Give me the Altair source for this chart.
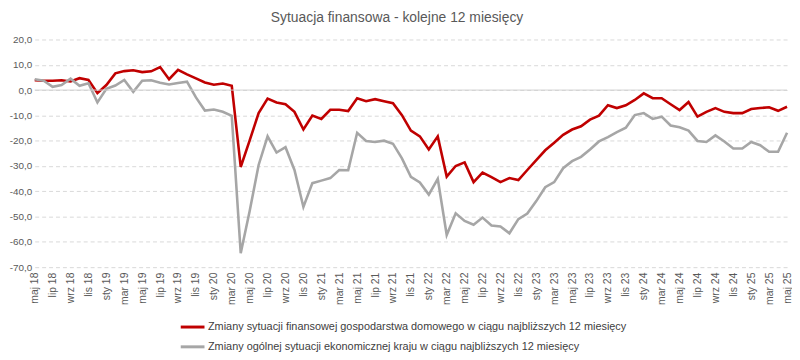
import altair as alt
import pandas as pd

month_names = ["sty", "lut", "mar", "kwi", "maj", "cze", "lip", "sie", "wrz", "paź", "lis", "gru"]
# May 2018 .. May 2025
months = []
y, m = 2018, 5
while (y, m) <= (2025, 5):
    months.append(f"{month_names[m - 1]} {str(y)[2:]}")
    m += 1
    if m > 12:
        m = 1
        y += 1

series_red = "Zmiany sytuacji finansowej gospodarstwa domowego w ciągu najbliższych 12 miesięcy"
series_gray = "Zmiany ogólnej sytuacji ekonomicznej kraju w ciągu najbliższych 12 miesięcy"

red = [3.9, 3.7, 3.7, 3.9, 3.4, 4.7, 4.0, -1.2, 2.0, 6.6,
       7.5, 7.8, 7.1, 7.4, 9.1, 4.3, 8.0, 6.2, 4.6, 3.0,
       2.1, 2.6, 1.7, -30.4, -19.9, -9.1, -3.4, -4.9, -5.6, -8.6,
       -15.6, -10.1, -11.4, -7.8, -7.8, -8.3, -3.2, -4.4, -3.6, -4.4,
       -5.2, -9.9, -16.0, -18.3, -23.5, -18.3, -34.2, -30.0, -28.6, -36.4,
       -32.6, -34.4, -36.4, -34.8, -35.6, -31.6, -27.7, -23.8, -20.8, -17.7,
       -15.6, -14.3, -11.7, -10.1, -6.0, -7.1, -6.0, -3.9, -1.3, -3.2,
       -3.2, -5.6, -7.9, -4.7, -10.5, -8.6, -7.1, -8.6, -9.1, -9.1,
       -7.5, -7.1, -6.8, -8.2, -6.6]

gray = [4.3, 3.7, 1.3, 2.0, 4.5, 1.7, 2.7, -4.9, 0.5, 1.8,
        4.0, -0.7, 3.7, 3.9, 2.9, 2.2, 2.8, 3.3, -2.9, -8.1,
        -7.7, -8.6, -10.2, -64.5, -47.8, -29.6, -18.3, -24.7, -22.6, -31.6,
        -46.2, -36.8, -35.8, -34.8, -31.6, -31.7, -16.9, -20.1, -20.5, -20.0,
        -21.2, -27.0, -34.3, -36.5, -41.3, -35.1, -57.3, -48.7, -51.7, -53.2,
        -50.4, -53.5, -53.9, -56.6, -51.0, -48.8, -43.9, -38.4, -36.4, -30.9,
        -28.1, -26.4, -23.5, -20.3, -18.6, -16.6, -14.9, -9.9, -9.1, -11.4,
        -10.5, -14.0, -14.7, -16.0, -20.1, -20.5, -17.9, -20.3, -23.1, -23.1,
        -20.5, -21.8, -24.4, -24.4, -16.9]

y_ticks = [20, 10, 0, -10, -20, -30, -40, -50, -60, -70]
x_ticks = months[::2]

rows = []
for i, mo in enumerate(months):
    rows.append({"month": mo, "value": red[i], "series": series_red})
    rows.append({"month": mo, "value": gray[i], "series": series_gray})
df = pd.DataFrame(rows)

font = "Liberation Sans"

x_enc = alt.X("month:O", sort=months, scale=alt.Scale(type="point", padding=0),
              axis=alt.Axis(values=x_ticks, title=None, labelAngle=-90, labelFontSize=10.5,
                            labelColor="#595959", labelFont=font, ticks=False, domain=False,
                            labelPadding=5, grid=False, labelOverlap=False))
y_scale = alt.Scale(domain=[-70, 20], nice=False)

lines = alt.Chart(df).mark_line(strokeWidth=2.6).encode(
    x=x_enc,
    y=alt.Y("value:Q", scale=y_scale,
            axis=alt.Axis(values=y_ticks, title=None, ticks=False, domain=False,
                          labelExpr="(datum.value < 0 ? '-' : '') + replace(format(abs(datum.value), '.1f'), '.', ',')",
                          labelFontSize=10, labelColor="#595959", labelFont=font, labelPadding=3,
                          labelOverlap=False, labelBound=False,
                          grid=True, gridColor="#D9D9D9", gridDash=[4, 3], gridWidth=1)),
    color=alt.Color("series:N", sort=[series_red, series_gray],
                    scale=alt.Scale(domain=[series_red, series_gray], range=["#C00000", "#A6A6A6"]),
                    legend=alt.Legend(title=None, orient="none", legendX=146, legendY=277,
                                      direction="vertical", symbolType="stroke", symbolSize=576,
                                      symbolStrokeWidth=3, labelFontSize=11, labelColor="#404040",
                                      labelFont=font, rowPadding=0, labelOffset=2, labelLimit=600)),
    detail="series:N",
)

zero = alt.Chart(pd.DataFrame({"v": [0]})).mark_rule(color="#D0D0D0", strokeWidth=1).encode(
    y=alt.Y("v:Q", scale=y_scale, axis=None)
)

chart = alt.layer(lines, zero).resolve_axis(y="independent").properties(
    width=760, height=230,
    autosize=alt.AutoSizeParams(type="none"),
    padding={"left": 27, "top": 30, "right": 5, "bottom": 92},
    title=alt.TitleParams("Sytuacja finansowa - kolejne 12 miesięcy", fontSize=14, font=font,
                          fontWeight="normal", color="#595959", offset=10, dx=-14),
).configure_view(stroke=None)

chart.save("out.html", embed_options={"renderer": "svg", "actions": False})
